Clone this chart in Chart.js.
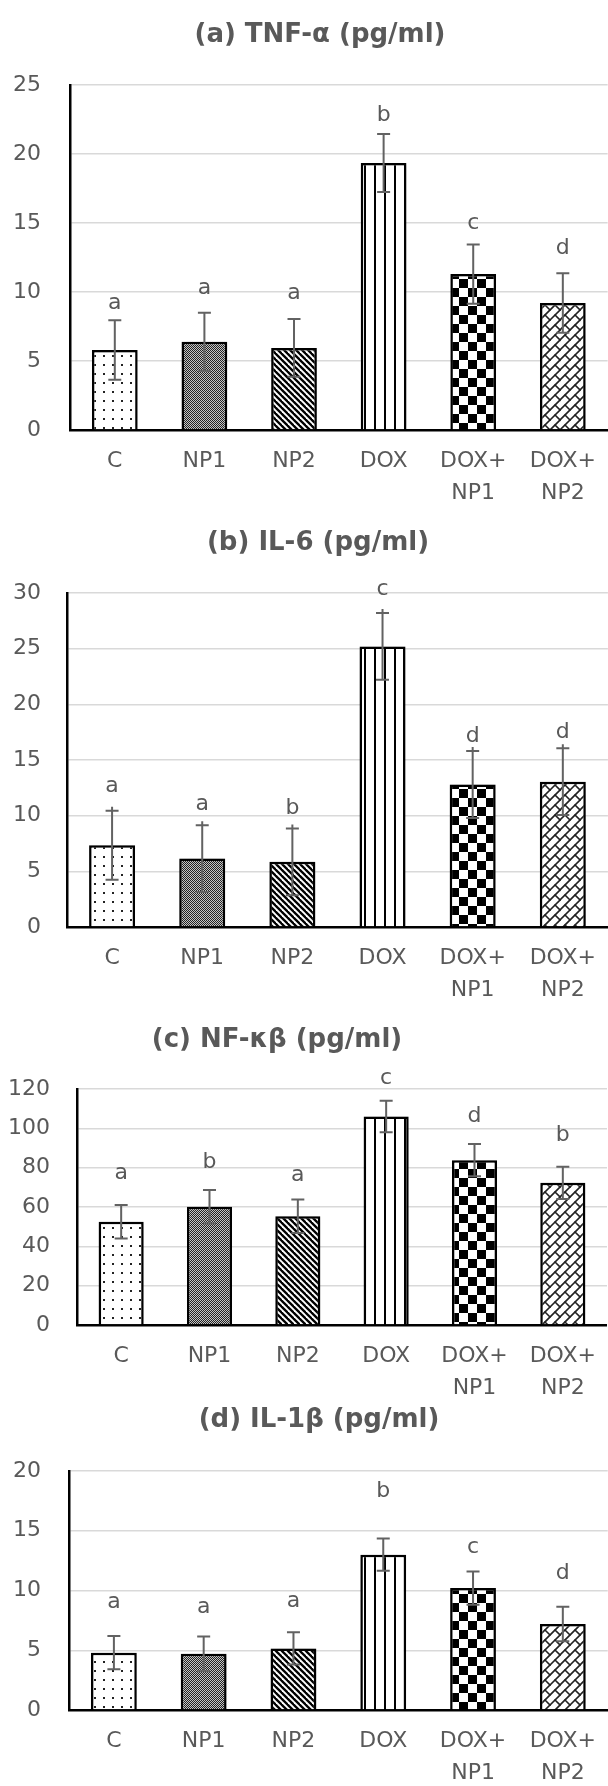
<!DOCTYPE html>
<html>
<head>
<meta charset="utf-8">
<script src="https://cdn.jsdelivr.net/npm/chart.js@4.4.1/dist/chart.umd.min.js"></script>
<style>
html,body{margin:0;padding:0;background:#fff;overflow:hidden;width:608px;height:1786px;}
.box{position:absolute;left:0;width:611px;}
</style>
</head>
<body>
<div class="box" style="top:0px;height:510px"><canvas id="ca"></canvas></div>
<div class="box" style="top:510px;height:497px"><canvas id="cb"></canvas></div>
<div class="box" style="top:1007px;height:398px"><canvas id="cc"></canvas></div>
<div class="box" style="top:1405px;height:385px"><canvas id="cd"></canvas></div>
<script>
// ---------- DATA ----------
const categories = [['C'], ['NP1'], ['NP2'], ['DOX'], ['DOX+', 'NP1'], ['DOX+', 'NP2']];

const tnfTitle = '(a) TNF-\u03b1 (pg/ml)';
const tnfMean = [5.8, 6.4, 5.95, 19.35, 11.3, 9.2];
const tnfErr = [2.15, 2.1, 2.1, 2.1, 2.15, 2.15];
const tnfLetters = ['a', 'a', 'a', 'b', 'c', 'd'];
const tnfLetterAt = [9.2, 10.3, 9.9, 22.8, 15.0, 13.2];
const tnfTicks = [0, 5, 10, 15, 20, 25];

const il6Title = '(b) IL-6 (pg/ml)';
const il6Mean = [7.35, 6.15, 5.85, 25.2, 12.8, 13.05];
const il6Err = [3.1, 3.0, 3.0, 3.0, 3.0, 3.0];
const il6Letters = ['a', 'a', 'b', 'c', 'd', 'd'];
const il6LetterAt = [12.6, 11.0, 10.65, 30.3, 17.15, 17.45];
const il6Ticks = [0, 5, 10, 15, 20, 25, 30];

const nfkbTitle = '(c) NF-\u03ba\u03b2 (pg/ml)';
const nfkbMean = [52.5, 60.1, 55.3, 106, 83.8, 72.3];
const nfkbErr = [8.5, 8.5, 8.5, 8.0, 8.2, 8.2];
const nfkbLetters = ['a', 'b', 'a', 'c', 'd', 'b'];
const nfkbLetterAt = [77.2, 82.6, 76.3, 125.5, 106, 96.6];
const nfkbTicks = [0, 20, 40, 60, 80, 100, 120];

const il1bTitle = '(d) IL-1\u03b2 (pg/ml)';
const il1bMean = [4.8, 4.7, 5.15, 13.0, 10.2, 7.2];
const il1bErr = [1.4, 1.45, 1.35, 1.35, 1.4, 1.45];
const il1bLetters = ['a', 'a', 'a', 'b', 'c', 'd'];
const il1bLetterAt = [9.0, 8.63, 9.1, 18.3, 13.64, 11.47];
const il1bTicks = [0, 5, 10, 15, 20];

// ---------- STYLE ----------
const FONT = '"DejaVu Sans", sans-serif';
const TEXT = '#595959';

function makePattern(w, h, draw) {
  const c = document.createElement('canvas');
  c.width = w; c.height = h;
  const g = c.getContext('2d');
  g.fillStyle = '#fff';
  g.fillRect(0, 0, w, h);
  draw(g, w, h);
  return document.createElement('canvas').getContext('2d').createPattern(c, 'repeat');
}
const patDots = makePattern(9, 9, g => { g.fillStyle = '#222'; g.fillRect(4, 4, 2, 2); });
const patFine = makePattern(2, 2, g => {
  g.fillStyle = '#c4c4c4'; g.fillRect(0, 0, 2, 2);
  g.fillStyle = '#222'; g.fillRect(0, 0, 1, 1); g.fillRect(1, 1, 1, 1);
});
const patDiag = makePattern(6, 6, (g, s) => {
  g.strokeStyle = '#000'; g.lineWidth = 2.3;
  for (let k = -2; k <= 2; k++) { g.beginPath(); g.moveTo(-s, -s + k * s); g.lineTo(2 * s, 2 * s + k * s); g.stroke(); }
});
const patVert = makePattern(10, 4, g => { g.fillStyle = '#000'; g.fillRect(4, 0, 2, 4); });
const patCheck = makePattern(18, 18, g => { g.fillStyle = '#000'; g.fillRect(0, 0, 9, 9); g.fillRect(9, 9, 9, 9); });
const patWeave = makePattern(20, 20, g => {
  g.strokeStyle = '#222'; g.lineWidth = 1.6; g.lineCap = 'round';
  const segs = [[0,10,10,0],[0,20,20,0],[10,20,20,10],[5,5,10,10],[15,15,20,20],[5,15,10,20],[15,5,20,10]];
  for (const [x1, y1, x2, y2] of segs) {
    for (const dx of [-20, 0, 20]) for (const dy of [-20, 0, 20]) {
      g.beginPath(); g.moveTo(x1 + dx, y1 + dy); g.lineTo(x2 + dx, y2 + dy); g.stroke();
    }
  }
});
const barFills = [patDots, patFine, patDiag, patVert, patCheck, patWeave];

// ---------- PLUGINS ----------
const panelTitle = {
  id: 'panelTitle',
  afterDraw(chart, args, o) {
    const c = chart.ctx;
    c.save();
    c.font = 'bold ' + o.size + 'px ' + FONT;
    c.fillStyle = TEXT; c.textAlign = 'center'; c.textBaseline = 'middle';
    c.fillText(o.text, o.x, o.y);
    c.restore();
  }
};
const barShadow = {
  id: 'barShadow',
  beforeDatasetDraw(chart) {
    const c = chart.ctx; c.save();
    c.shadowColor = 'rgba(0,0,0,0.28)'; c.shadowBlur = 7;
  },
  afterDatasetDraw(chart) { chart.ctx.restore(); }
};
const errorBars = {
  id: 'errorBars',
  afterDatasetsDraw(chart, args, o) {
    const c = chart.ctx, y = chart.scales.y;
    const meta = chart.getDatasetMeta(0), vals = chart.data.datasets[0].data;
    c.save();
    c.strokeStyle = '#626262'; c.lineWidth = 2;
    meta.data.forEach((bar, i) => {
      const yt = y.getPixelForValue(vals[i] + o.errors[i]);
      const yb = y.getPixelForValue(vals[i] - o.errors[i]);
      c.beginPath();
      c.moveTo(bar.x, yt - o.overhang); c.lineTo(bar.x, yb);
      c.moveTo(bar.x - o.cap, yt); c.lineTo(bar.x + o.cap, yt);
      c.moveTo(bar.x - o.cap, yb); c.lineTo(bar.x + o.cap, yb);
      c.stroke();
    });
    c.fillStyle = TEXT; c.font = '22px ' + FONT; c.textAlign = 'center'; c.textBaseline = 'middle';
    meta.data.forEach((bar, i) => {
      c.fillText(o.letters[i], bar.x, y.getPixelForValue(o.letterAt[i]));
    });
    c.restore();
  }
};

function makeChart(id, p) {
  new Chart(document.getElementById(id), {
    type: 'bar',
    data: {
      labels: categories,
      datasets: [{
        data: p.mean,
        backgroundColor: barFills,
        borderColor: '#000',
        borderWidth: 2.5,
        barPercentage: 0.51,
        categoryPercentage: 1.0
      }]
    },
    plugins: [panelTitle, barShadow, errorBars],
    options: {
      responsive: true,
      maintainAspectRatio: false,
      animation: false,
      layout: { padding: { top: p.padTop, left: 0, right: 0, bottom: 0 } },
      plugins: {
        legend: { display: false },
        tooltip: { enabled: false },
        title: { display: false },
        panelTitle: { text: p.title, x: p.titleX, y: p.titleY, size: 26 },
        errorBars: { errors: p.err, letters: p.letters, letterAt: p.letterAt, cap: 6.5, overhang: p.overhang }
      },
      scales: {
        x: {
          grid: { display: false, drawTicks: false },
          border: { display: true, color: '#000', width: 2.5 },
          ticks: { color: TEXT, font: { family: FONT, size: 22, lineHeight: 1.45 }, padding: 15, maxRotation: 0, autoSkip: false },
          afterFit: s => { s.height = 80; }
        },
        y: {
          min: 0,
          max: p.ticks[p.ticks.length - 1],
          afterBuildTicks: s => { s.ticks = p.ticks.map(v => ({ value: v })); },
          afterFit: s => { s.width = p.axisX; },
          grid: { color: '#d9d9d9', lineWidth: 1.5, drawTicks: false },
          border: { display: true, color: '#000', width: 2.5 },
          ticks: { color: TEXT, font: { family: FONT, size: 22 }, padding: p.tickPad }
        }
      }
    }
  });
}

makeChart('ca', { title: tnfTitle, mean: tnfMean, err: tnfErr, letters: tnfLetters, letterAt: tnfLetterAt, ticks: tnfTicks,
  axisX: 70, tickPad: 29, padTop: 85, titleX: 320, titleY: 35, overhang: 0 });
makeChart('cb', { title: il6Title, mean: il6Mean, err: il6Err, letters: il6Letters, letterAt: il6LetterAt, ticks: il6Ticks,
  axisX: 67, tickPad: 26, padTop: 83, titleX: 318, titleY: 33, overhang: 4 });
makeChart('cc', { title: nfkbTitle, mean: nfkbMean, err: nfkbErr, letters: nfkbLetters, letterAt: nfkbLetterAt, ticks: nfkbTicks,
  axisX: 77, tickPad: 27, padTop: 82, titleX: 277, titleY: 33, overhang: 0 });
makeChart('cd', { title: il1bTitle, mean: il1bMean, err: il1bErr, letters: il1bLetters, letterAt: il1bLetterAt, ticks: il1bTicks,
  axisX: 69, tickPad: 28, padTop: 66, titleX: 319, titleY: 15, overhang: 0 });
</script>
</body>
</html>
